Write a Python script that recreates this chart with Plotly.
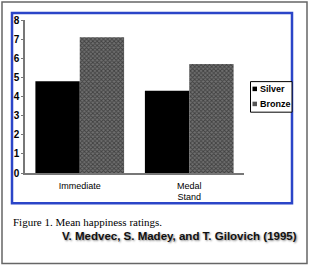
import plotly.graph_objects as go

categories = ["Immediate", "Medal<br>Stand"]
silver = [4.8, 4.3]
bronze = [7.1, 5.7]
y_ticks = [0, 1, 2, 3, 4, 5, 6, 7, 8]
legend_labels = ["Silver", "Bronze"]

W, H = 310, 265
L, R, T, B = 25, 244, 20, 172.7

def px(x):
    return (x - L) / (R - L)

def py(y):
    return (B - y) / (B - T)

fig = go.Figure()
fig.add_trace(go.Bar(x=categories, y=silver, name="Silver",
                     marker=dict(color="#000000", line=dict(width=0))))
fig.add_trace(go.Bar(x=categories, y=bronze, name="Bronze",
                     marker=dict(color="#555555", line=dict(width=0),
                                 pattern=dict(shape="x", size=3, solidity=0.5,
                                              fgcolor="#111111", bgcolor="#707070"))))

shapes = [
    dict(type="rect", xref="paper", yref="paper", x0=px(2), x1=px(307), y0=py(2), y1=py(263),
         line=dict(color="#666666", width=1.5), layer="below"),
    dict(type="rect", xref="paper", yref="paper", x0=px(12), x1=px(292), y0=py(13), y1=py(203),
         line=dict(color="#2b45c8", width=2.5), layer="below"),
    # legend box
    dict(type="rect", xref="paper", yref="paper", x0=px(250.5), x1=px(292), y0=py(81.5), y1=py(112),
         line=dict(color="#000000", width=1), fillcolor="white", layer="above"),
    dict(type="rect", xref="paper", yref="paper", x0=px(252.5), x1=px(257), y0=py(86.5), y1=py(91),
         line=dict(width=0), fillcolor="#000000", layer="above"),
    dict(type="rect", xref="paper", yref="paper", x0=px(252.5), x1=px(257), y0=py(101.5), y1=py(106),
         line=dict(width=0), fillcolor="#555555", layer="above"),
]

annotations = [
    dict(text="<b>" + legend_labels[0] + "</b>", xref="paper", yref="paper", x=px(258), y=py(89),
         xanchor="left", yanchor="middle", showarrow=False,
         font=dict(family="Liberation Sans", size=9, color="#000")),
    dict(text="<b>" + legend_labels[1] + "</b>", xref="paper", yref="paper", x=px(258), y=py(104),
         xanchor="left", yanchor="middle", showarrow=False,
         font=dict(family="Liberation Sans", size=9, color="#000")),
    dict(text="Figure 1. Mean happiness ratings.", xref="paper", yref="paper", x=px(11), y=py(222),
         xanchor="left", yanchor="middle", showarrow=False,
         font=dict(family="Liberation Serif", size=11, color="#000")),
    dict(text="<b>V. Medvec, S. Madey, and T. Gilovich (1995)</b>", xref="paper", yref="paper",
         x=px(299), y=py(235.5), xanchor="right", yanchor="middle", showarrow=False,
         font=dict(family="Liberation Sans", size=11.5, color="#111",
                   shadow="1px 1px 2px #888888")),
]

fig.update_layout(
    width=W, height=H,
    margin=dict(l=L, r=W - R, t=T, b=H - B, pad=0),
    paper_bgcolor="white", plot_bgcolor="white",
    barmode="group", bargap=0.19, bargroupgap=0,
    showlegend=False,
    shapes=shapes, annotations=annotations,
    xaxis=dict(showline=True, linecolor="#777777", linewidth=1.5, ticks="",
               ticklabelstandoff=3,
               tickfont=dict(family="Liberation Sans", size=9, color="#000"),
               showgrid=False, zeroline=False),
    yaxis=dict(range=[0, 8], tickvals=y_ticks, ticktext=["<b>%d</b>" % v for v in y_ticks],
               showline=True, linecolor="#777777", linewidth=1.5, ticks="outside",
               ticklen=2, tickcolor="#777777",
               tickfont=dict(family="Liberation Sans", size=10, color="#000"),
               showgrid=False, zeroline=False),
)

fig.write_html("out.html")
